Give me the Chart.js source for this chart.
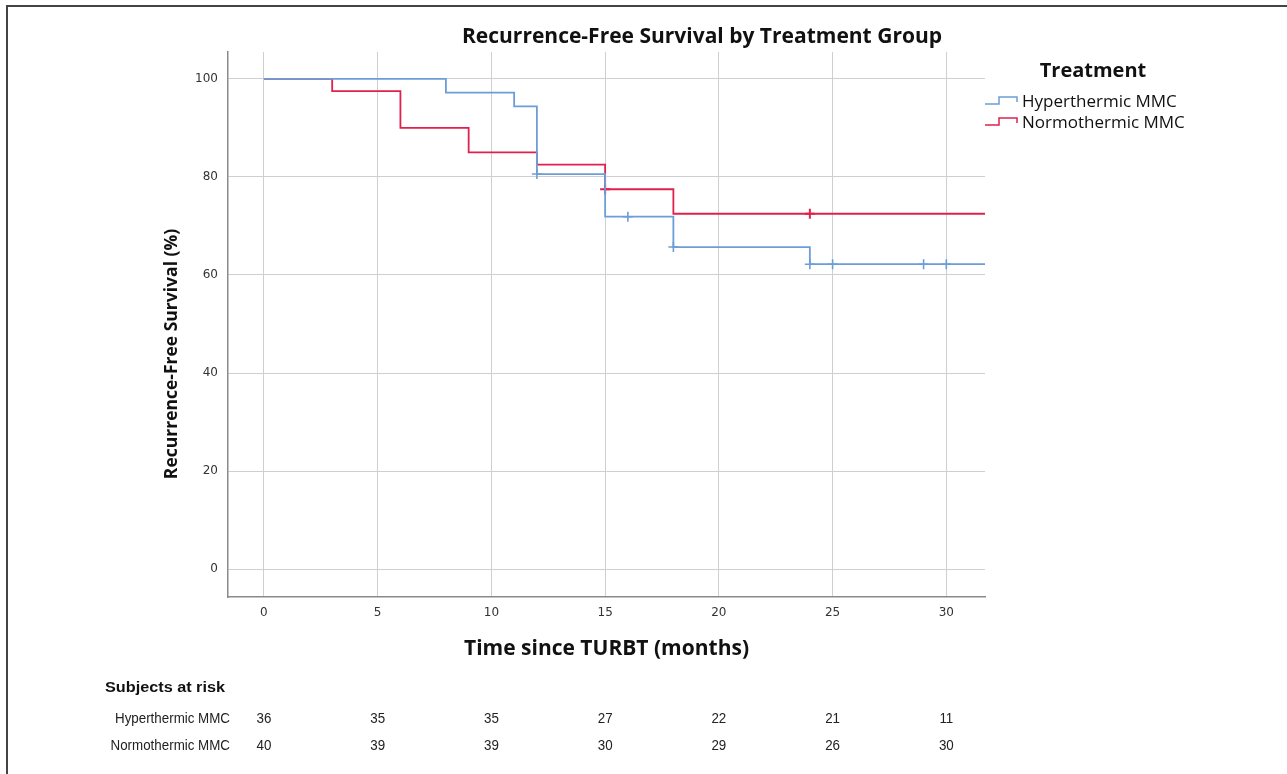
<!DOCTYPE html>
<html>
<head>
<meta charset="utf-8">
<script src="https://cdn.jsdelivr.net/npm/chart.js@4.4.0/dist/chart.umd.min.js"></script>
<style>
  html, body { margin: 0; padding: 0; background: #fff; }
  #wrap { width: 1287px; height: 774px; position: relative; }
</style>
</head>
<body>
<div id="wrap"><canvas id="km" width="1287" height="774"></canvas></div>
<script>
// Kaplan-Meier step curves (months, % recurrence-free)
const hyperTimes  = [0, 8, 11, 12, 15, 18, 24, 33];
const hyperSurv   = [100, 97.2, 94.4, 80.6, 71.9, 65.7, 62.2, 62.2];
const normoTimes  = [0, 3, 6, 9, 12, 15, 18, 33];
const normoSurv   = [100, 97.5, 90, 85, 82.5, 77.5, 72.5, 72.5];

// censored observations (+ marks)
const hyperCensorTimes = [12, 16, 18, 24, 25, 29, 30];
const hyperCensorSurv  = [80.6, 71.9, 65.7, 62.2, 62.2, 62.2, 62.2];
const normoCensorTimes = [15, 24];
const normoCensorSurv  = [77.5, 72.5];

const xTicks = [0, 5, 10, 15, 20, 25, 30];
const yTicks = [0, 20, 40, 60, 80, 100];

const riskGroups = ['Hyperthermic MMC', 'Normothermic MMC'];
const riskHyper  = [36, 35, 35, 27, 22, 21, 11];
const riskNormo  = [40, 39, 39, 30, 29, 26, 30];

const BLUE = '#6c9dd8';
const RED  = '#e0214e';
const GRID = '#cfcfcf';
const TEXT = '#333333';

const pts = (xs, ys) => xs.map((x, i) => ({ x, y: ys[i] }));

// condensed text: plain sans squeezed horizontally by sx
function narrowText(ctx, text, x, y, sx, align) {
  const w = ctx.measureText(text).width * sx;
  const left = align === 'right' ? x - w : align === 'center' ? x - w / 2 : x;
  ctx.save();
  ctx.textAlign = 'left';
  ctx.translate(left, y);
  ctx.scale(sx, 1);
  ctx.fillText(text, 0, 0);
  ctx.restore();
}

// frame, titles, legend and the numbers-at-risk table
const decorations = {
  id: 'decorations',
  afterDraw(chart) {
    const { ctx, chartArea } = chart;
    const xs = chart.scales.x;
    ctx.save();

    // outer frame (top + left only)
    ctx.strokeStyle = '#444';
    ctx.lineWidth = 2;
    ctx.beginPath();
    ctx.moveTo(7, 774);
    ctx.lineTo(7, 6);
    ctx.lineTo(1287, 6);
    ctx.stroke();

    ctx.fillStyle = '#111';
    ctx.textBaseline = 'middle';

    // chart title
    ctx.font = 'bold 21px "Open Sans"';
    ctx.textAlign = 'center';
    ctx.fillText('Recurrence-Free Survival by Treatment Group', 702, 37);

    // axis titles
    ctx.font = 'bold 21px "Open Sans"';
    ctx.fillText('Time since TURBT (months)', (chartArea.left + chartArea.right) / 2, 649);
    ctx.save();
    ctx.translate(172, 354);
    ctx.rotate(-Math.PI / 2);
    ctx.font = 'bold 17.5px "Open Sans"';
    ctx.fillText('Recurrence-Free Survival (%)', 0, 0);
    ctx.restore();

    // legend
    ctx.font = 'bold 20px "Open Sans"';
    ctx.fillText('Treatment', 1093, 71);
    ctx.font = '17px "Open Sans"';
    ctx.textAlign = 'left';
    [[BLUE, 'Hyperthermic MMC'], [RED, 'Normothermic MMC']].forEach(([c, label], i) => {
      const y = 102 + i * 21;
      ctx.strokeStyle = c;
      ctx.lineWidth = 1.5;
      ctx.beginPath();
      ctx.moveTo(985, y + 2);
      ctx.lineTo(999, y + 2);
      ctx.lineTo(999, y - 5);
      ctx.lineTo(1017, y - 5);
      ctx.lineTo(1017, y);
      ctx.stroke();
      ctx.fillStyle = '#111';
      ctx.fillText(label, 1022, y);
    });

    // subjects at risk
    ctx.font = 'bold 14px "Liberation Sans"';
    const sxBold = 120 / ctx.measureText('Subjects at risk').width;
    narrowText(ctx, 'Subjects at risk', 105, 688, sxBold, 'left');
    ctx.font = '14px "Liberation Sans"';
    const sx = 115 / ctx.measureText(riskGroups[0]).width;
    ctx.fillStyle = '#222';
    [riskHyper, riskNormo].forEach((row, r) => {
      const y = 719 + r * 27;
      narrowText(ctx, riskGroups[r], 230, y, sx, 'right');
      row.forEach((n, i) => narrowText(ctx, String(n), xs.getPixelForValue(xTicks[i]), y, sx, 'center'));
    });

    ctx.restore();
  }
};

new Chart(document.getElementById('km'), {
  type: 'line',
  data: {
    datasets: [
      { label: 'Hyperthermic MMC', data: pts(hyperTimes, hyperSurv), borderColor: BLUE,
        borderWidth: 1.8, stepped: 'before', pointRadius: 0, fill: false },
      { label: 'Normothermic MMC', data: pts(normoTimes, normoSurv), borderColor: RED,
        borderWidth: 1.8, stepped: 'before', pointRadius: 0, fill: false },
      { label: 'hyper censored', data: pts(hyperCensorTimes, hyperCensorSurv), showLine: false,
        pointStyle: 'cross', pointRadius: 5, borderColor: BLUE, borderWidth: 1.6 },
      { label: 'normo censored', data: pts(normoCensorTimes, normoCensorSurv), showLine: false,
        pointStyle: 'cross', pointRadius: 5, borderColor: RED, borderWidth: 2 },
    ]
  },
  options: {
    responsive: false,
    animation: false,
    layout: { padding: { left: 168, top: 52, right: 302, bottom: 0 } },
    plugins: { legend: { display: false }, tooltip: { enabled: false }, title: { display: false } },
    scales: {
      x: {
        type: 'linear',
        min: -1.58,
        max: 31.7,
        afterBuildTicks: s => { s.ticks = xTicks.map(v => ({ value: v })); },
        afterFit: s => { s.height = 177; },
        grid: { color: GRID, drawTicks: false },
        border: { color: '#8a8a8a', width: 1.5 },
        ticks: { color: TEXT, padding: 9, font: { family: 'DejaVu Sans', size: 12 } }
      },
      y: {
        min: -5.7,
        max: 105.5,
        afterBuildTicks: s => { s.ticks = yTicks.map(v => ({ value: v })); },
        afterFit: s => { s.width = 60; },
        grid: { color: GRID, drawTicks: false },
        border: { color: '#8a8a8a', width: 1.5 },
        ticks: { color: TEXT, padding: 10, font: { family: 'DejaVu Sans', size: 12 } }
      }
    }
  },
  plugins: [decorations]
});
</script>
</body>
</html>
